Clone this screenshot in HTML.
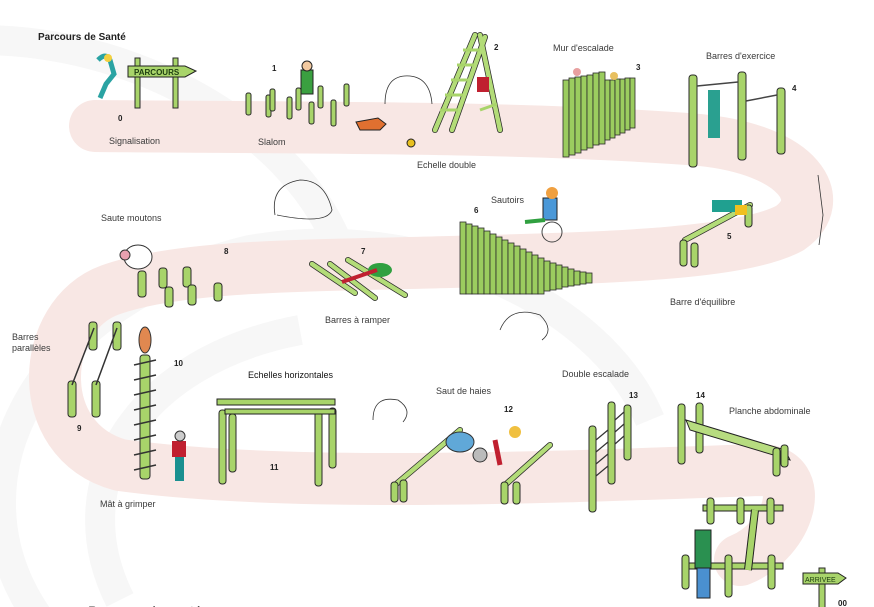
<!DOCTYPE html>
<html><head><meta charset="utf-8"><style>
html,body{margin:0;padding:0;background:#fff;width:874px;height:607px;overflow:hidden}
svg{display:block}
text{font-family:"Liberation Sans",sans-serif;fill:#3a3a3a;font-size:9px}
.n{font-weight:bold;font-size:8px;fill:#222}
.p{fill:#a8d46a;stroke:#2a2a2a;stroke-width:1}
.b{stroke:#2a2a2a;stroke-width:6;stroke-linecap:round}
.bi{stroke:#b3dc78;stroke-width:4.5;stroke-linecap:round}
</style></head><body>
<svg width="874" height="607" viewBox="0 0 874 607" xmlns="http://www.w3.org/2000/svg">
<g fill="none" stroke="#f7f7f7" stroke-width="30">
<path d="M-20 40 C150 40 300 140 340 250"/>
<path d="M40 620 C-60 480 40 300 250 250 C420 220 600 300 650 420"/>
<path d="M120 600 C60 480 140 360 300 330"/>
</g>
<path d="M95 126 C300 128 520 126 700 140 C800 150 830 200 790 228 C740 255 600 258 450 262 C300 266 180 265 110 290 C40 315 30 440 120 465 C300 490 600 475 760 470 C810 470 790 540 740 560" fill="none" stroke="#f8e7e4" stroke-width="52" stroke-linecap="round" stroke-linejoin="round"/>

<text x="38" y="40" style="font-weight:bold;font-size:10px;fill:#222">Parcours de Santé</text>
<text x="109" y="144">Signalisation</text>
<text x="258" y="145">Slalom</text>
<text x="417" y="168">Echelle double</text>
<text x="553" y="51">Mur d'escalade</text>
<text x="706" y="59">Barres d'exercice</text>
<text x="101" y="221">Saute moutons</text>
<text x="491" y="203">Sautoirs</text>
<text x="670" y="305">Barre d'équilibre</text>
<text x="325" y="323">Barres à ramper</text>
<text x="12" y="340">Barres</text>
<text x="12" y="351">parallèles</text>
<text x="248" y="378" style="fill:#111">Echelles horizontales</text>
<text x="436" y="394">Saut de haies</text>
<text x="562" y="377">Double escalade</text>
<text x="729" y="414">Planche abdominale</text>
<text x="100" y="507">Mât à grimper</text>
<text x="88" y="616" style="font-size:14px">Parcours de santé</text>
<text class="n" x="118" y="121">0</text><text class="n" x="272" y="71">1</text>
<text class="n" x="494" y="50">2</text><text class="n" x="636" y="70">3</text>
<text class="n" x="792" y="91">4</text><text class="n" x="727" y="239">5</text>
<text class="n" x="474" y="213">6</text><text class="n" x="361" y="254">7</text>
<text class="n" x="224" y="254">8</text><text class="n" x="77" y="431">9</text>
<text class="n" x="174" y="366">10</text><text class="n" x="270" y="470">11</text>
<text class="n" x="504" y="412">12</text><text class="n" x="629" y="398">13</text>
<text class="n" x="696" y="398">14</text>

<rect class="p" x="135" y="58" width="5" height="50"/><rect class="p" x="173" y="58" width="5" height="50"/>
<path d="M128 66 H185 L196 71 L185 77 H128Z" fill="#a8d46a" stroke="#222"/>
<text x="134" y="75" style="font-size:8px;fill:#1d3d10;font-weight:bold">PARCOURS</text>
<path d="M98 60 q8 -8 12 0 l4 14 l-8 10 l-6 14" stroke="#2aa3a3" stroke-width="5" fill="none"/>
<circle cx="108" cy="58" r="4" fill="#f3d040"/>
<g><rect class="p" x="246" y="93" width="5" height="22" rx="2"/><rect class="p" x="266" y="95" width="5" height="22" rx="2"/><rect class="p" x="270" y="89" width="5" height="22" rx="2"/><rect class="p" x="287" y="97" width="5" height="22" rx="2"/><rect class="p" x="296" y="88" width="5" height="22" rx="2"/><rect class="p" x="309" y="102" width="5" height="22" rx="2"/><rect class="p" x="318" y="86" width="5" height="22" rx="2"/><rect class="p" x="331" y="100" width="5" height="26" rx="2"/><rect class="p" x="344" y="84" width="5" height="22" rx="2"/></g>
<rect x="301" y="70" width="12" height="24" fill="#3aa040" stroke="#222"/><circle cx="307" cy="66" r="5" fill="#f2c9a0" stroke="#222"/>
<path d="M356 122 l22 -4 l8 6 l-6 6 l-20 0z" fill="#e07030" stroke="#222"/>
<circle cx="411" cy="143" r="4" fill="#e8c020" stroke="#222"/>
<g class="b"><line x1="435" y1="130" x2="475" y2="35"/><line x1="452" y1="130" x2="485" y2="37"/><line x1="480" y1="35" x2="500" y2="130"/></g>
<g class="bi"><line x1="435" y1="130" x2="475" y2="35"/><line x1="452" y1="130" x2="485" y2="37"/><line x1="480" y1="35" x2="500" y2="130"/></g>
<g stroke="#a8d46a" stroke-width="3"><line x1="440" y1="110" x2="458" y2="110"/><line x1="445" y1="95" x2="463" y2="95"/><line x1="451" y1="80" x2="468" y2="80"/><line x1="457" y1="65" x2="474" y2="65"/><line x1="463" y1="50" x2="480" y2="50"/><line x1="480" y1="110" x2="497" y2="104"/></g>
<rect x="477" y="77" width="12" height="15" fill="#c02030"/>
<g fill="#9bcc5f" stroke="#2a2a2a" stroke-width=".8">
<rect x="563" y="80" width="6" height="77"/><rect x="569" y="78" width="6" height="77"/><rect x="575" y="77" width="6" height="76"/><rect x="581" y="76" width="6" height="74"/><rect x="587" y="75" width="6" height="73"/><rect x="593" y="73" width="6" height="72"/><rect x="599" y="72" width="6" height="72"/><rect x="605" y="80" width="5" height="60"/><rect x="610" y="80" width="5" height="58"/><rect x="615" y="79" width="5" height="56"/><rect x="620" y="79" width="5" height="54"/><rect x="625" y="78" width="5" height="52"/><rect x="630" y="78" width="5" height="50"/></g>
<circle cx="577" cy="72" r="4" fill="#e8a0a0"/><circle cx="614" cy="76" r="4" fill="#e8c060"/>
<rect class="p" x="689" y="75" width="8" height="92" rx="3"/><rect class="p" x="738" y="72" width="8" height="88" rx="3"/><rect class="p" x="777" y="88" width="8" height="66" rx="3"/>
<line x1="697" y1="86" x2="738" y2="82" stroke="#444" stroke-width="1.5"/><line x1="746" y1="101" x2="777" y2="95" stroke="#444" stroke-width="1.5"/>
<rect x="708" y="90" width="12" height="48" fill="#2aa090"/>
<g class="b"><line x1="685" y1="240" x2="750" y2="205"/></g><g class="bi"><line x1="685" y1="240" x2="750" y2="205"/></g>
<rect class="p" x="680" y="240" width="7" height="26" rx="3"/><rect class="p" x="691" y="243" width="7" height="24" rx="3"/><rect class="p" x="745" y="205" width="7" height="22" rx="3"/>
<rect x="712" y="200" width="30" height="12" fill="#20a090"/><rect x="735" y="205" width="12" height="10" fill="#f0c020"/>
<g fill="#9bcc5f" stroke="#2a2a2a" stroke-width=".8">
<rect x="460" y="222" width="6" height="72"/><rect x="466" y="224" width="6" height="70"/><rect x="472" y="226" width="6" height="68"/><rect x="478" y="228" width="6" height="66"/><rect x="484" y="231" width="6" height="63"/><rect x="490" y="234" width="6" height="60"/><rect x="496" y="237" width="6" height="57"/><rect x="502" y="240" width="6" height="54"/><rect x="508" y="243" width="6" height="51"/><rect x="514" y="246" width="6" height="48"/><rect x="520" y="249" width="6" height="45"/><rect x="526" y="252" width="6" height="42"/><rect x="532" y="255" width="6" height="39"/><rect x="538" y="258" width="6" height="36"/><rect x="544" y="261" width="6" height="30"/><rect x="550" y="263" width="6" height="27"/><rect x="556" y="265" width="6" height="24"/><rect x="562" y="267" width="6" height="20"/><rect x="568" y="269" width="6" height="17"/><rect x="574" y="271" width="6" height="14"/><rect x="580" y="272" width="6" height="12"/><rect x="586" y="273" width="6" height="10"/></g>
<rect x="543" y="198" width="14" height="22" fill="#4a98d8" stroke="#222"/><circle cx="552" cy="193" r="6" fill="#f0a040"/>
<circle cx="552" cy="232" r="10" fill="none" stroke="#444"/><path d="M525 222 l20 -2" stroke="#30a040" stroke-width="4"/>
<g class="b"><line x1="312" y1="264" x2="355" y2="293"/><line x1="330" y1="264" x2="375" y2="298"/><line x1="348" y1="260" x2="405" y2="295"/></g>
<g class="bi"><line x1="312" y1="264" x2="355" y2="293"/><line x1="330" y1="264" x2="375" y2="298"/><line x1="348" y1="260" x2="405" y2="295"/></g>
<ellipse cx="380" cy="270" rx="12" ry="7" fill="#30a040"/><path d="M342 282 l35 -12" stroke="#c02030" stroke-width="4"/>
<rect class="p" x="138" y="271" width="8" height="26" rx="3"/><rect class="p" x="159" y="268" width="8" height="20" rx="3"/><rect class="p" x="165" y="287" width="8" height="20" rx="3"/><rect class="p" x="183" y="267" width="8" height="20" rx="3"/><rect class="p" x="188" y="285" width="8" height="20" rx="3"/><rect class="p" x="214" y="283" width="8" height="18" rx="3"/>
<ellipse cx="138" cy="257" rx="14" ry="12" fill="#fff" stroke="#333"/><circle cx="125" cy="255" r="5" fill="#e8a0b0" stroke="#333"/>
<rect class="p" x="89" y="322" width="8" height="28" rx="3"/><rect class="p" x="113" y="322" width="8" height="28" rx="3"/><rect class="p" x="68" y="381" width="8" height="36" rx="3"/><rect class="p" x="92" y="381" width="8" height="36" rx="3"/>
<line x1="72" y1="385" x2="94" y2="328" stroke="#333" stroke-width="1.5"/><line x1="96" y1="385" x2="117" y2="328" stroke="#333" stroke-width="1.5"/>
<rect class="p" x="140" y="355" width="10" height="124" rx="3"/>
<g stroke="#333" stroke-width="1.5"><line x1="134" y1="365" x2="156" y2="360"/><line x1="134" y1="380" x2="156" y2="375"/><line x1="134" y1="395" x2="156" y2="390"/><line x1="134" y1="410" x2="156" y2="405"/><line x1="134" y1="425" x2="156" y2="420"/><line x1="134" y1="440" x2="156" y2="435"/><line x1="134" y1="455" x2="156" y2="450"/><line x1="134" y1="470" x2="156" y2="465"/></g>
<ellipse cx="145" cy="340" rx="6" ry="13" fill="#e08850" stroke="#333"/>
<rect x="172" y="441" width="14" height="16" fill="#c02030"/><rect x="175" y="457" width="9" height="24" fill="#1a9090"/><circle cx="180" cy="436" r="5" fill="#ccc" stroke="#333"/>
<rect class="p" x="219" y="410" width="7" height="74" rx="3"/><rect class="p" x="229" y="414" width="7" height="58" rx="3"/><rect class="p" x="315" y="411" width="7" height="75" rx="3"/><rect class="p" x="329" y="408" width="7" height="60" rx="3"/>
<rect x="217" y="399" width="118" height="6" fill="#a8d46a" stroke="#222"/><rect x="225" y="409" width="110" height="5" fill="#a8d46a" stroke="#222"/>
<g class="b"><line x1="395" y1="485" x2="460" y2="430"/><line x1="505" y1="485" x2="550" y2="445"/></g>
<g class="bi"><line x1="395" y1="485" x2="460" y2="430"/><line x1="505" y1="485" x2="550" y2="445"/></g>
<rect class="p" x="391" y="482" width="7" height="20" rx="3"/><rect class="p" x="400" y="480" width="7" height="22" rx="3"/><rect class="p" x="501" y="482" width="7" height="22" rx="3"/><rect class="p" x="513" y="482" width="7" height="22" rx="3"/>
<ellipse cx="460" cy="442" rx="14" ry="10" fill="#60a8d8" stroke="#333"/><circle cx="480" cy="455" r="7" fill="#bbb" stroke="#333"/><path d="M495 440 l5 25" stroke="#c02030" stroke-width="5"/><circle cx="515" cy="432" r="6" fill="#f0c040"/>
<rect class="p" x="589" y="426" width="7" height="86" rx="3"/><rect class="p" x="608" y="402" width="7" height="82" rx="3"/><rect class="p" x="624" y="405" width="7" height="55" rx="3"/>
<g stroke="#333" stroke-width="1.2"><line x1="596" y1="440" x2="608" y2="430"/><line x1="596" y1="452" x2="608" y2="442"/><line x1="596" y1="464" x2="608" y2="454"/><line x1="596" y1="476" x2="608" y2="466"/><line x1="615" y1="420" x2="624" y2="412"/><line x1="615" y1="432" x2="624" y2="424"/><line x1="615" y1="444" x2="624" y2="436"/></g>
<rect class="p" x="678" y="404" width="7" height="60" rx="3"/><rect class="p" x="696" y="403" width="7" height="50" rx="3"/>
<path d="M686 420 L785 450 L790 460 L690 430Z" fill="#b7dc80" stroke="#222"/>
<rect class="p" x="773" y="448" width="7" height="28" rx="3"/><rect class="p" x="781" y="445" width="7" height="22" rx="3"/>
<rect x="703" y="505" width="80" height="6" fill="#a8d46a" stroke="#222"/>
<rect class="p" x="707" y="498" width="7" height="26" rx="3"/><rect class="p" x="737" y="498" width="7" height="26" rx="3"/><rect class="p" x="767" y="498" width="7" height="26" rx="3"/>
<rect x="683" y="563" width="100" height="6" fill="#a8d46a" stroke="#222"/>
<rect class="p" x="682" y="555" width="7" height="34" rx="3"/><rect class="p" x="725" y="555" width="7" height="42" rx="3"/><rect class="p" x="768" y="555" width="7" height="34" rx="3"/>
<line x1="755" y1="510" x2="748" y2="570" stroke="#222" stroke-width="8"/><line x1="755" y1="510" x2="748" y2="570" stroke="#a8d46a" stroke-width="6"/>
<rect x="695" y="530" width="16" height="38" fill="#2a9050" stroke="#222"/><rect x="697" y="568" width="13" height="30" fill="#4a90d0" stroke="#222"/>
<rect class="p" x="819" y="568" width="6" height="40"/>
<path d="M803 573 H838 L846 578 L838 584 H803Z" fill="#a8d46a" stroke="#222"/>
<text x="805" y="582" style="font-size:7px;fill:#1d3d10">ARRIVEE</text>
<text class="n" x="838" y="606">00</text>
<g fill="none" stroke="#333" stroke-width=".8">
<path d="M385 104 q0 -30 25 -28 q20 2 22 28"/><path d="M275 215 q-5 -30 25 -35 q25 0 32 30 q-5 15 -55 5"/>
<path d="M500 330 q10 -25 40 -15 q15 15 2 25"/><path d="M373 420 q0 -25 25 -20 q15 10 5 22"/><path d="M818 175 l5 40 l-4 30"/></g>
</svg>
</body></html>
